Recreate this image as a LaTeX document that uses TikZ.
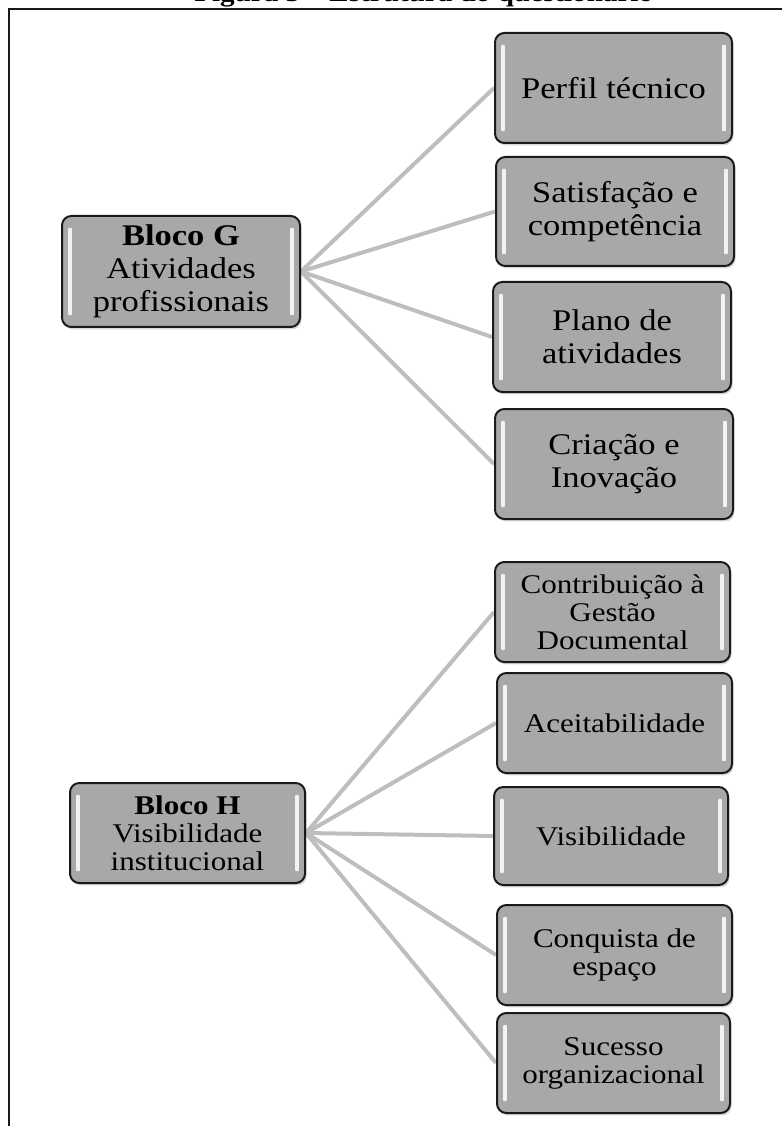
\documentclass[tikz,border=0pt]{standalone}
\usepackage{fontspec}
\setmainfont{Liberation Serif}[FakeStretch=1.15]
\usetikzlibrary{shadows,backgrounds}
\definecolor{boxgray}{HTML}{A8A8A8}
\definecolor{boxline}{HTML}{1A1A1A}
\definecolor{linegray}{HTML}{BEBEBE}
\tikzset{
  blk/.style={draw=boxline, line width=1.5pt, fill=boxgray, rounded corners=7pt,
    align=center, inner sep=0pt,
    drop shadow={opacity=0.3, shadow xshift=1.2pt, shadow yshift=-1.8pt},
    path picture={
      \draw[white, opacity=0.85, line width=2.4pt, line cap=round]
        ([xshift=6pt,yshift=-10pt]path picture bounding box.north west) --
        ([xshift=6pt,yshift=10pt]path picture bounding box.south west)
        ([xshift=-6pt,yshift=-10pt]path picture bounding box.north east) --
        ([xshift=-6pt,yshift=10pt]path picture bounding box.south east);
    }},
  gfont/.style={font=\fontsize{22.5}{24.75}\selectfont},
  hfont/.style={font=\fontsize{20.25}{21}\selectfont},
  sz/.style 2 args={minimum width=#1*0.75pt, minimum height=#2*0.75pt},
  link/.style={draw=linegray, line width=3pt},
  frame/.style={draw=boxline, line width=1.5pt},
  titlefont/.style={font=\bfseries\fontsize{19}{21}\selectfont}
}
\begin{document}
\begin{tikzpicture}[x=0.75pt, y=-0.75pt]
\useasboundingbox (0,0) rectangle (782,1126);
\clip (0,0) rectangle (782,1126);

% title (cut off at the top, as in the reference) and frame
\node[titlefont, anchor=base west, inner sep=0pt] (title) at (194,1.5) {Figura 5 – Estrutura do questionário};
\coordinate (fbl) at (9,1130);
\coordinate (ftl) at (9,9.5);
\coordinate (ftr) at (786,9.5);
\draw[frame] (fbl) -- (ftl) -- (ftr);

% Bloco G
\node[blk, gfont, sz={238}{111}] (G) at (181,271.5) {\textbf{Bloco G}\\Atividades\\profissionais};
\node[blk, gfont, sz={237}{110}] (g1) at (613.5,88) {Perfil técnico};
\node[blk, gfont, sz={238}{109}] (g2) at (615,211.5) {Satisfação e\\competência};
\node[blk, gfont, sz={238}{110}] (g3) at (612,337) {Plano de\\atividades};
\node[blk, gfont, sz={238}{110}] (g4) at (614,464) {Criação e\\Inovação};

% Bloco H
\node[blk, hfont, sz={235}{100}] (H) at (187.5,833) {\textbf{Bloco H}\\Visibilidade\\institucional};
\node[blk, hfont, sz={235}{100}] (h1) at (612.5,612) {Contribuição à\\Gestão\\Documental};
\node[blk, hfont, sz={235}{100}] (h2) at (614.5,723) {Aceitabilidade};
\node[blk, hfont, sz={234}{98}] (h3) at (611,836) {Visibilidade};
\node[blk, hfont, sz={235}{100}] (h4) at (614.5,955) {Conquista de\\espaço};
\node[blk, hfont, sz={233}{100}] (h5) at (613.5,1063) {Sucesso\\organizacional};

\begin{scope}[on background layer]
  \foreach \c in {g1,g2,g3,g4} \draw[link] (G.east) -- (\c.west);
  \foreach \c in {h1,h2,h3,h4,h5} \draw[link] (H.east) -- (\c.west);
\end{scope}
\end{tikzpicture}
\end{document}
